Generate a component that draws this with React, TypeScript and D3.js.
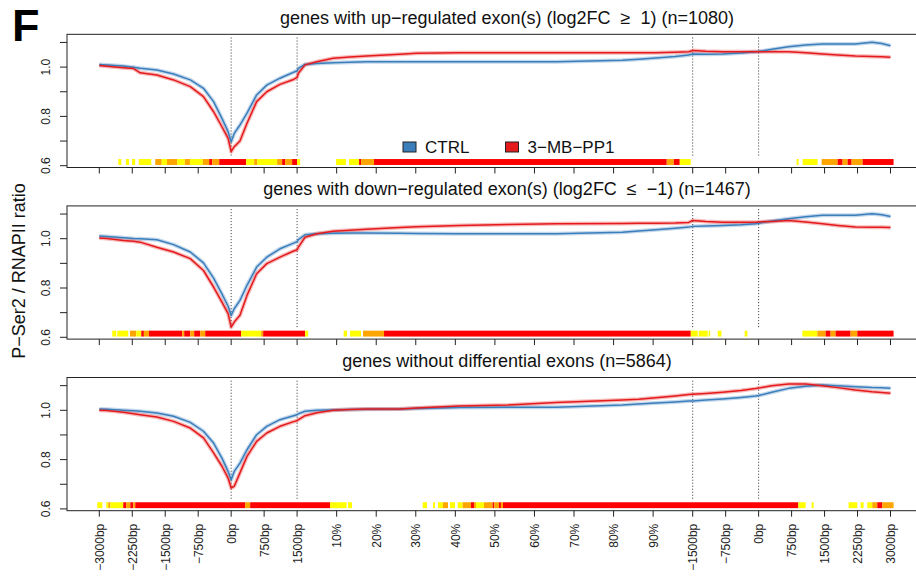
import React from 'react';
import * as d3 from 'd3';

// x positions in a composite coordinate: upstream (-3000..0bp) 0..3000, TSS (0..1500bp) 3000..4500,
// gene body (0..100%) 4500..13500, TES (-1500..0bp) 13500..15000, downstream (0..3000bp) 15000..18000
const X_POS = [0, 175, 550, 780, 930, 1310, 1690, 2070, 2370, 2600, 2790, 2930, 3000, 3070, 3200, 3360, 3580, 3810, 4110, 4420, 4500, 4530, 4680, 4950, 5320, 5700, 6080, 6840, 7220, 8200, 9300, 10400, 11900, 12270, 12660, 13100, 13410, 13500, 13800, 14180, 14600, 14930, 15000, 15300, 15680, 16070, 16450, 16800, 17200, 17580, 17800, 18000];

const UP_CTRL = [1.011, 1.009, 1.004, 0.999, 0.995, 0.988, 0.972, 0.948, 0.914, 0.860, 0.792, 0.738, 0.697, 0.731, 0.765, 0.813, 0.887, 0.927, 0.955, 0.979, 0.985, 0.995, 1.011, 1.015, 1.018, 1.020, 1.022, 1.022, 1.022, 1.022, 1.022, 1.022, 1.028, 1.032, 1.037, 1.043, 1.049, 1.053, 1.052, 1.053, 1.057, 1.062, 1.063, 1.072, 1.083, 1.090, 1.094, 1.094, 1.094, 1.101, 1.096, 1.087];
const UP_MB = [1.006, 1.003, 0.997, 0.994, 0.977, 0.968, 0.948, 0.921, 0.880, 0.819, 0.758, 0.711, 0.657, 0.677, 0.700, 0.772, 0.860, 0.900, 0.930, 0.950, 0.958, 0.975, 1.009, 1.022, 1.036, 1.041, 1.045, 1.052, 1.056, 1.058, 1.058, 1.058, 1.058, 1.058, 1.058, 1.060, 1.062, 1.067, 1.064, 1.062, 1.062, 1.062, 1.062, 1.062, 1.062, 1.058, 1.053, 1.049, 1.045, 1.043, 1.042, 1.040];

const DOWN_CTRL = [1.011, 1.009, 1.004, 1.001, 1.000, 0.996, 0.976, 0.946, 0.902, 0.840, 0.776, 0.726, 0.689, 0.716, 0.750, 0.811, 0.885, 0.925, 0.959, 0.982, 0.988, 0.996, 1.016, 1.020, 1.022, 1.023, 1.023, 1.022, 1.021, 1.020, 1.020, 1.020, 1.026, 1.031, 1.036, 1.042, 1.047, 1.050, 1.052, 1.054, 1.057, 1.061, 1.063, 1.072, 1.081, 1.089, 1.095, 1.095, 1.095, 1.101, 1.097, 1.090];
const DOWN_MB = [1.003, 1.001, 0.993, 0.990, 0.986, 0.965, 0.946, 0.919, 0.871, 0.804, 0.743, 0.696, 0.641, 0.662, 0.689, 0.770, 0.858, 0.899, 0.925, 0.950, 0.955, 0.966, 1.006, 1.020, 1.030, 1.034, 1.038, 1.045, 1.048, 1.054, 1.058, 1.061, 1.062, 1.063, 1.063, 1.064, 1.066, 1.074, 1.070, 1.067, 1.067, 1.067, 1.068, 1.070, 1.074, 1.068, 1.061, 1.054, 1.047, 1.046, 1.046, 1.045];

const NODIFF_CTRL = [1.005, 1.004, 1.000, 0.998, 0.996, 0.989, 0.976, 0.951, 0.915, 0.867, 0.806, 0.752, 0.718, 0.752, 0.786, 0.840, 0.901, 0.935, 0.962, 0.978, 0.982, 0.986, 0.996, 1.000, 1.001, 1.003, 1.004, 1.005, 1.007, 1.011, 1.012, 1.012, 1.022, 1.026, 1.030, 1.034, 1.038, 1.038, 1.042, 1.046, 1.052, 1.058, 1.060, 1.073, 1.089, 1.098, 1.103, 1.100, 1.096, 1.092, 1.091, 1.089];
const NODIFF_MB = [1.000, 0.999, 0.992, 0.986, 0.982, 0.973, 0.955, 0.928, 0.888, 0.827, 0.773, 0.725, 0.685, 0.692, 0.746, 0.813, 0.874, 0.908, 0.935, 0.954, 0.958, 0.962, 0.978, 0.990, 1.000, 1.003, 1.005, 1.005, 1.009, 1.017, 1.022, 1.032, 1.042, 1.045, 1.051, 1.058, 1.064, 1.065, 1.068, 1.073, 1.080, 1.088, 1.090, 1.100, 1.107, 1.107, 1.100, 1.092, 1.082, 1.075, 1.072, 1.069];

// significance strips: [start, end, level] level 1 = yellow, 2 = orange, 3 = red
const STRIP_UP = [
  [432, 500, 1], [605, 675, 1], [745, 818, 1], [898, 1182, 1], [1273, 1420, 2], [1420, 1539, 1], [1539, 1773, 2], [1773, 1946, 1],
  [1946, 2062, 2], [2062, 2355, 1], [2355, 2500, 2], [2500, 2569, 3], [2569, 2728, 2], [2728, 3341, 3], [3341, 3523, 1], [3523, 3591, 2],
  [3591, 4046, 1], [4046, 4160, 2], [4160, 4228, 3], [4228, 4387, 2], [4387, 4500, 3], [4500, 4569, 1],
  [5387, 5614, 1], [5682, 5910, 1], [5910, 5955, 3], [5955, 6250, 2], [6250, 12910, 3], [12910, 13070, 2], [13070, 13206, 3], [13206, 13456, 1],
  [15865, 15910, 1], [16000, 16342, 1], [16433, 16797, 2], [16797, 16910, 3], [16910, 17024, 2], [17024, 17115, 3], [17115, 17365, 2], [17365, 18070, 3],
];
const STRIP_DOWN = [
  [295, 386, 1], [409, 659, 1], [698, 841, 2], [841, 955, 1], [955, 1014, 3], [1014, 1130, 2], [1130, 1887, 3], [1887, 1932, 2],
  [1932, 2068, 3], [2068, 2159, 2], [2159, 2296, 3], [2296, 2410, 2], [2410, 3228, 3], [3228, 3682, 1], [3682, 3728, 2], [3728, 4683, 3], [4683, 4751, 1],
  [5560, 5637, 1], [5705, 5955, 1], [6000, 6478, 2], [6478, 13456, 3], [13456, 13615, 1], [13637, 13842, 1], [13864, 13898, 1], [14070, 14155, 1], [14683, 14745, 1],
  [15995, 16335, 1], [16335, 16524, 2], [16524, 16637, 3], [16637, 16751, 2], [16751, 17092, 3], [17092, 17245, 2], [17245, 18070, 3],
];
const STRIP_NODIFF = [
  [-45, 68, 1], [159, 205, 1], [205, 250, 2], [250, 545, 1], [545, 614, 3], [614, 705, 2], [705, 773, 3], [773, 818, 2], [818, 3318, 3],
  [3318, 3432, 2], [3432, 5250, 3], [5250, 5626, 1], [5660, 5750, 1],
  [7357, 7455, 1], [7592, 7637, 1], [7705, 7819, 1], [7819, 7933, 2], [7978, 8092, 1], [8153, 8267, 1], [8267, 8455, 2], [8455, 8524, 3],
  [8524, 8569, 2], [8569, 8751, 1], [8751, 8949, 2], [8949, 8985, 3], [8985, 9092, 2], [9092, 9137, 3], [9137, 9183, 2], [9183, 15904, 3],
  [15904, 16070, 1], [16206, 16251, 1],
  [17047, 17245, 1], [17320, 17388, 1], [17472, 17586, 1], [17586, 17700, 2], [17700, 17813, 3], [17813, 18070, 2],
];

const TITLES = [
  'genes with up\u2212regulated exon(s) (log2FC  \u2265  1) (n=1080)',
  'genes with down\u2212regulated exon(s) (log2FC  \u2264  \u22121) (n=1467)',
  'genes without differential exons (n=5864)',
];

const X_TICKS = [0, 750, 1500, 2250, 3000, 3750, 4500, 5400, 6300, 7200, 8100, 9000, 9900, 10800, 11700, 12600, 13500, 14250, 15000, 15750, 16500, 17250, 18000];
const X_LABELS = ['\u22123000bp', '\u22122250bp', '\u22121500bp', '\u2212750bp', '0bp', '750bp', '1500bp', '10%', '20%', '30%', '40%', '50%', '60%', '70%', '80%', '90%', '\u22121500bp', '\u2212750bp', '0bp', '750bp', '1500bp', '2250bp', '3000bp'];
const V_LINES = [3000, 4500, 13500, 15000];
const Y_TICKS = [0.6, 0.7, 0.8, 0.9, 1.0, 1.1];
const Y_LABELS = ['0.6', '', '0.8', '', '1.0', ''];
const LEGEND_LABELS = ['CTRL', '3\u2212MB\u2212PP1'];
const Y_TITLE = 'P\u2212Ser2 / RNAPII ratio';

const BLUE = '#3A7EBC';
const RED = '#E41A1C';
const STRIP_COLORS = ['', '#FFFF00', '#FFA500', '#FF0000'];
const FONT = '"Liberation Sans", Arial, Helvetica, sans-serif';

export default function App() {
  const W = 916, H = 578;
  const x = d3.scaleLinear().domain([0, 18000]).range([99.3, 890.5]);
  const OFF = 171.6;
  const panels = [
    { ctrl: UP_CTRL, mb: UP_MB, strip: STRIP_UP, title: TITLES[0] },
    { ctrl: DOWN_CTRL, mb: DOWN_MB, strip: STRIP_DOWN, title: TITLES[1] },
    { ctrl: NODIFF_CTRL, mb: NODIFF_MB, strip: STRIP_NODIFF, title: TITLES[2] },
  ];
  const boxLeft = 67;
  const boxRight = 948;

  return (
    <svg width={W} height={H} style={{ position: 'absolute', left: 0, top: 0, background: '#fff' }} fontFamily={FONT}>
      <rect x={0} y={0} width={W} height={H} fill="#fff" />
      <text x={12} y={41} fontSize={45} fontWeight="bold" fill="#000">F</text>
      <text transform={`translate(25,271) rotate(-90)`} textAnchor="middle" fontSize={18} fill="#111">{Y_TITLE}</text>
      {panels.map((p, i) => {
        const off = OFF * i;
        const y = d3.scaleLinear().domain([0.6, 1.1]).range([165.7 + off, 42.45 + off]);
        const top = y(1.133);
        const bottom = y(0.5927);
        const line = d3.line<number>().x((_, k) => x(X_POS[k])).y((d) => y(d));
        return (
          <g key={i}>
            <text x={507} y={23.5 + off} textAnchor="middle" fontSize={18} fill="#111" style={{ whiteSpace: 'pre' }}>{p.title}</text>
            {/* strip */}
            {p.strip.map((s, k) => (
              <rect key={k} x={x(s[0])} y={y(0.627)} width={Math.max(0.5, x(s[1]) - x(s[0]))} height={y(0.603) - y(0.627)} fill={STRIP_COLORS[s[2]]} />
            ))}
            {/* vertical dotted lines */}
            {V_LINES.map((v, k) => (
              <line key={k} x1={x(v)} x2={x(v)} y1={y(1.12)} y2={y(0.64)} stroke="#333" strokeWidth={1} strokeDasharray="1,2" />
            ))}
            {/* lines */}
            <path d={line(p.ctrl) || ''} fill="none" stroke={BLUE} strokeOpacity={0.3} strokeWidth={4} strokeLinejoin="round" />
            <path d={line(p.mb) || ''} fill="none" stroke={RED} strokeOpacity={0.3} strokeWidth={4} strokeLinejoin="round" />
            <path d={line(p.ctrl) || ''} fill="none" stroke={BLUE} strokeWidth={1.5} strokeLinejoin="round" />
            <path d={line(p.mb) || ''} fill="none" stroke={RED} strokeWidth={1.5} strokeLinejoin="round" />
            {/* box */}
            <rect x={boxLeft} y={top} width={boxRight - boxLeft} height={bottom - top} fill="none" stroke="#222" strokeWidth={1} />
            {/* y axis */}
            {Y_TICKS.map((t, k) => (
              <g key={k}>
                <line x1={boxLeft - 7} x2={boxLeft} y1={y(t)} y2={y(t)} stroke="#222" />
                {Y_LABELS[k] && (
                  <text transform={`translate(50,${y(t)}) rotate(-90)`} textAnchor="middle" fontSize={12} fill="#222">{Y_LABELS[k]}</text>
                )}
              </g>
            ))}
            {/* x ticks */}
            {X_TICKS.map((t, k) => (
              <line key={k} x1={x(t)} x2={x(t)} y1={bottom} y2={bottom + 6} stroke="#222" />
            ))}
            {i === 2 && X_TICKS.map((t, k) => (
              <text key={'l' + k} transform={`translate(${x(t) + 4.5},${bottom + 13}) rotate(-90)`} textAnchor="end" fontSize={12} fill="#222">{X_LABELS[k]}</text>
            ))}
            {i === 0 && (
              <g>
                <rect x={403} y={142} width={13} height={10} fill={BLUE} stroke="#222" strokeWidth={1} />
                <text x={425} y={152.5} fontSize={17} fill="#111">{LEGEND_LABELS[0]}</text>
                <rect x={505.5} y={142} width={13} height={10} fill={RED} stroke="#222" strokeWidth={1} />
                <text x={527.5} y={152.5} fontSize={17} fill="#111">{LEGEND_LABELS[1]}</text>
              </g>
            )}
          </g>
        );
      })}
    </svg>
  );
}
